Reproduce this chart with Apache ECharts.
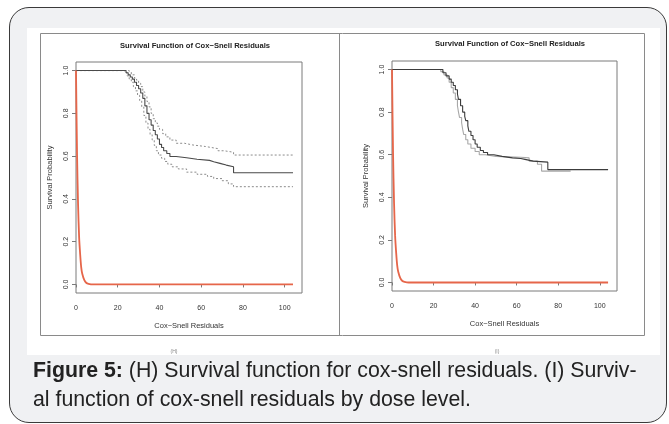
<!DOCTYPE html>
<html lang="en">
<head>
<meta charset="UTF-8">
<title>Survival Function of Cox-Snell Residuals</title>
<script src="https://cdn.jsdelivr.net/npm/echarts@6/dist/echarts.min.js"></script>
<style>
    body { margin: 0; width: 669px; height: 424px; overflow: hidden; background: #fff; font-family: "Liberation Sans", Arial, sans-serif; }
    #card { position: absolute; left: 9px; top: 7px; width: 658px; height: 416px; box-sizing: border-box; border: 1.5px solid #3a3a3a; border-radius: 20px; background: #f0f1f3; }
    #panel { position: absolute; left: 27px; top: 28px; width: 633px; height: 327px; background: #fff; }
    #main { position: absolute; left: 0; top: 0; width: 669px; height: 424px; }
    #caption { position: absolute; left: 33px; top: 356px; font-size: 21.3px; line-height: 29px; color: #222; white-space: nowrap; }
</style>
</head>
<body>
<div id="card"></div>
<div id="panel"></div>
<div id="main"></div>
<div id="caption"><b>Figure 5:</b> (H) Survival function for cox-snell residuals. (I) Surviv-<br>al function of cox-snell residuals by dose level.</div>
<script>
    // axis ticks
    var xTicks = [0, 20, 40, 60, 80, 100];
    var yTicks = [0, 0.2, 0.4, 0.6, 0.8, 1.0];

    // red reference curve
    var refTime = [0, 0.5, 1, 1.5, 2, 2.5, 3, 4, 5, 6, 8, 104];
    var refSurv = [1, 0.61, 0.37, 0.22, 0.14, 0.08, 0.05, 0.02, 0.007, 0.003, 0, 0];

    // (H) Kaplan-Meier estimate with confidence band
    var kmTime = [0, 24, 25, 26, 27, 28, 29, 30, 31, 32, 33, 34, 35, 36, 37, 38, 39, 40, 41, 42, 43.5, 45, 48, 53, 58, 64, 66, 69, 72, 75.5, 104];
    var kmSurv = [1, 0.99, 0.98, 0.97, 0.96, 0.945, 0.93, 0.915, 0.895, 0.87, 0.835, 0.80, 0.77, 0.745, 0.72, 0.70, 0.68, 0.655, 0.64, 0.625, 0.612, 0.598, 0.592, 0.585, 0.58, 0.574, 0.566, 0.558, 0.55, 0.522, 0.522];
    var upTime = [0, 25, 26.5, 28, 29, 30, 31, 32, 33, 34, 35, 36, 37, 38, 39, 40, 41.5, 43, 45, 48, 52, 56, 62, 65, 68, 71, 75.5, 104];
    var upSurv = [1, 0.995, 0.98, 0.965, 0.955, 0.94, 0.925, 0.9, 0.88, 0.855, 0.83, 0.80, 0.775, 0.755, 0.74, 0.725, 0.705, 0.69, 0.675, 0.66, 0.652, 0.645, 0.64, 0.635, 0.625, 0.618, 0.605, 0.605];
    var loTime = [0, 23.5, 24.5, 25.5, 26.5, 27.5, 28.5, 29.5, 30.5, 31.5, 32.5, 33.5, 34.5, 35.5, 36.5, 37.5, 38.5, 39.5, 41, 42.5, 44, 46, 49, 53, 58, 63, 66, 70, 73, 75.5, 104];
    var loSurv = [1, 0.99, 0.975, 0.96, 0.945, 0.925, 0.905, 0.885, 0.86, 0.83, 0.79, 0.755, 0.725, 0.70, 0.675, 0.65, 0.625, 0.605, 0.59, 0.575, 0.562, 0.55, 0.54, 0.525, 0.515, 0.505, 0.495, 0.485, 0.47, 0.457, 0.457];

    // (I) by dose level
    var doseATime = [0, 24.5, 26, 27.5, 28.5, 29.5, 30.5, 31.5, 32, 33, 34, 35, 35.5, 36.5, 37, 38, 39, 40, 41, 42.5, 44, 46, 49, 53, 58, 62, 64, 68, 75, 104];
    var doseASurv = [1, 0.985, 0.97, 0.955, 0.94, 0.925, 0.905, 0.885, 0.86, 0.83, 0.80, 0.78, 0.76, 0.735, 0.71, 0.69, 0.67, 0.65, 0.635, 0.62, 0.61, 0.60, 0.592, 0.585, 0.582, 0.578, 0.57, 0.565, 0.53, 0.53];
    var doseBTime = [0, 23.5, 25, 26.5, 27.5, 28.5, 29.5, 30.5, 31.5, 32, 32.5, 33.5, 34, 34.5, 35.5, 36.5, 38, 40, 42, 45, 50, 56, 62, 66, 70, 72, 86];
    var doseBSurv = [1, 0.99, 0.975, 0.96, 0.94, 0.915, 0.89, 0.86, 0.83, 0.80, 0.775, 0.75, 0.72, 0.695, 0.67, 0.65, 0.63, 0.615, 0.60, 0.592, 0.59, 0.588, 0.585, 0.57, 0.555, 0.523, 0.523];

    function pairs(t, s) {
        return t.map(function (v, i) { return [v, s[i]]; });
    }

    var textColor = '#333';
    var frameColor = '#7a7a7a';

    function makeX(idx) {
        return {
            type: 'value', gridIndex: idx, min: 0, max: 108.3,
            name: 'Cox\u2212Snell Residuals', nameLocation: 'middle', nameGap: 29,
            nameTextStyle: { fontSize: 7.5, color: textColor, fontFamily: 'Liberation Sans' },
            axisLine: { show: false },
            axisTick: { show: true, length: 3, lineStyle: { color: frameColor }, customValues: xTicks },
            axisLabel: { fontSize: 7, color: textColor, margin: 12, fontFamily: 'Liberation Sans', customValues: xTicks },
            splitLine: { show: false }
        };
    }
    function makeY(idx) {
        return {
            type: 'value', gridIndex: idx, min: -0.04, max: 1.04,
            name: 'Survival Probability', nameLocation: 'middle', nameGap: 22,
            nameTextStyle: { fontSize: 7.5, color: textColor, fontFamily: 'Liberation Sans' },
            axisLine: { show: false },
            axisTick: { show: true, length: 4, lineStyle: { color: frameColor }, customValues: yTicks },
            axisLabel: {
                fontSize: 7, color: textColor, margin: 6, rotate: 90, fontFamily: 'Liberation Sans',
                customValues: yTicks,
                formatter: function (v) { return v.toFixed(1); }
            },
            splitLine: { show: false }
        };
    }
    function stepLine(name, idx, t, s, color, width, dash) {
        return {
            name: name, type: 'line', xAxisIndex: idx, yAxisIndex: idx,
            data: pairs(t, s), step: 'end', symbol: 'none', silent: true,
            lineStyle: { color: color, width: width, type: dash || 'solid' }
        };
    }
    function refLine(idx) {
        return {
            name: 'exp', type: 'line', xAxisIndex: idx, yAxisIndex: idx,
            data: pairs(refTime, refSurv), smooth: 0.3, symbol: 'none', silent: true,
            lineStyle: { color: '#e6664a', width: 1.8 }
        };
    }

    var chart = echarts.init(document.getElementById('main'));
    chart.setOption({
        animation: false,
        backgroundColor: 'transparent',
        title: [
            { text: 'Survival Function of Cox\u2212Snell Residuals', left: 190, top: 37, textAlign: 'center',
              textStyle: { fontSize: 7.6, fontWeight: 'bold', color: '#222', fontFamily: 'Liberation Sans' } },
            { text: 'Survival Function of Cox\u2212Snell Residuals', left: 505, top: 35, textAlign: 'center',
              textStyle: { fontSize: 7.6, fontWeight: 'bold', color: '#222', fontFamily: 'Liberation Sans' } }
        ],
        grid: [
            { left: 76, top: 62, width: 226, height: 231, show: true, borderColor: frameColor, borderWidth: 1 },
            { left: 392, top: 61, width: 225, height: 230, show: true, borderColor: frameColor, borderWidth: 1 }
        ],
        xAxis: [makeX(0), makeX(1)],
        yAxis: [makeY(0), makeY(1)],
        graphic: [
            { type: 'rect', shape: { x: 40.5, y: 33.5, width: 604, height: 302 }, style: { fill: 'none', stroke: '#8a8a8a', lineWidth: 1 } },
            { type: 'line', shape: { x1: 339.5, y1: 33.5, x2: 339.5, y2: 335.5 }, style: { stroke: '#8a8a8a', lineWidth: 1 } },
            { type: 'text', x: 174, y: 352, style: { text: '(H)', fontSize: 5, fill: '#888', align: 'center', verticalAlign: 'middle' } },
            { type: 'text', x: 497, y: 352, style: { text: '(I)', fontSize: 5, fill: '#888', align: 'center', verticalAlign: 'middle' } }
        ],
        series: [
            stepLine('upper', 0, upTime, upSurv, '#8c8c8c', 1, [2, 2]),
            stepLine('lower', 0, loTime, loSurv, '#8c8c8c', 1, [2, 2]),
            stepLine('km', 0, kmTime, kmSurv, '#4a4a4a', 1.1),
            refLine(0),
            stepLine('dose B', 1, doseBTime, doseBSurv, '#a8a8a8', 1.1),
            stepLine('dose A', 1, doseATime, doseASurv, '#3c3c3c', 1.1),
            refLine(1)
        ]
    });
</script>
</body>
</html>
